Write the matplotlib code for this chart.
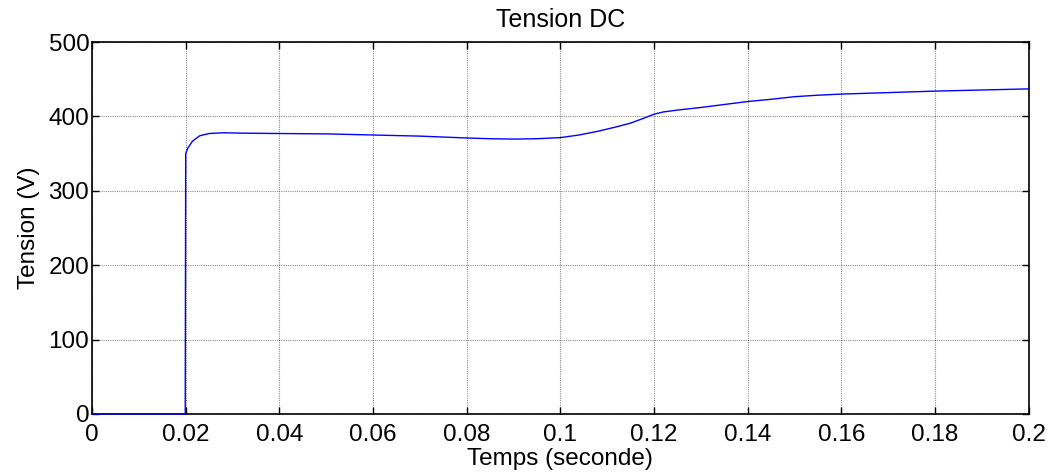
import matplotlib.pyplot as plt
import numpy as np

# valeurs (temps en s, tension en V)
temps = [0.0, 0.0199, 0.0200, 0.0205, 0.0215, 0.023, 0.025, 0.028, 0.032, 0.04, 0.05,
         0.06, 0.07, 0.08, 0.085, 0.09, 0.095, 0.1, 0.104, 0.108, 0.112, 0.115,
         0.118, 0.12, 0.122, 0.125, 0.13, 0.135, 0.14, 0.145, 0.15, 0.155, 0.16,
         0.17, 0.18, 0.19, 0.2]
tension = [0.0, 0.0, 350.0, 358.0, 367.0, 374.0, 377.0, 378.0, 377.5, 377.0, 376.5,
           375.0, 373.5, 371.0, 370.0, 369.5, 370.0, 371.5, 375.0, 380.0, 386.0, 391.0,
           398.0, 403.0, 406.0, 408.5, 412.0, 416.0, 420.0, 423.0, 426.5, 428.5, 430.0,
           432.0, 434.0, 435.5, 437.0]

xticks = [0, 0.02, 0.04, 0.06, 0.08, 0.1, 0.12, 0.14, 0.16, 0.18, 0.2]
xtick_labels = ['0', '0.02', '0.04', '0.06', '0.08', '0.1', '0.12', '0.14', '0.16', '0.18', '0.2']
yticks = [0, 100, 200, 300, 400, 500]

plt.rcParams['font.family'] = ['Liberation Sans', 'DejaVu Sans']

fig = plt.figure(figsize=(10.53, 4.72), dpi=100)
ax = fig.add_axes([0.0874, 0.1229, 0.8895, 0.7881])

ax.plot(temps, tension, color='#0000ff', linewidth=1.0, zorder=3, clip_on=False)

ax.set_xlim(0, 0.2)
ax.set_ylim(0, 500)
ax.set_xticks(xticks)
ax.set_xticklabels(xtick_labels)
ax.set_yticks(yticks)
ax.tick_params(direction='in', length=5, width=1, labelsize=17.5,
               top=True, right=True, pad=2)
ax.tick_params(axis='x', pad=7.5)

ax.grid(True, color='black', alpha=0.45, linestyle=(0, (1, 1)), linewidth=0.8)
ax.set_axisbelow(True)
for s in ax.spines.values():
    s.set_linewidth(1.2)

ax.set_title('Tension DC', fontsize=18, pad=11)
ax.set_xlabel('Temps (seconde)', fontsize=17.5, labelpad=1.5)
ax.set_ylabel('Tension (V)', fontsize=17.5, labelpad=6)

fig.savefig('out.png', dpi=100)
